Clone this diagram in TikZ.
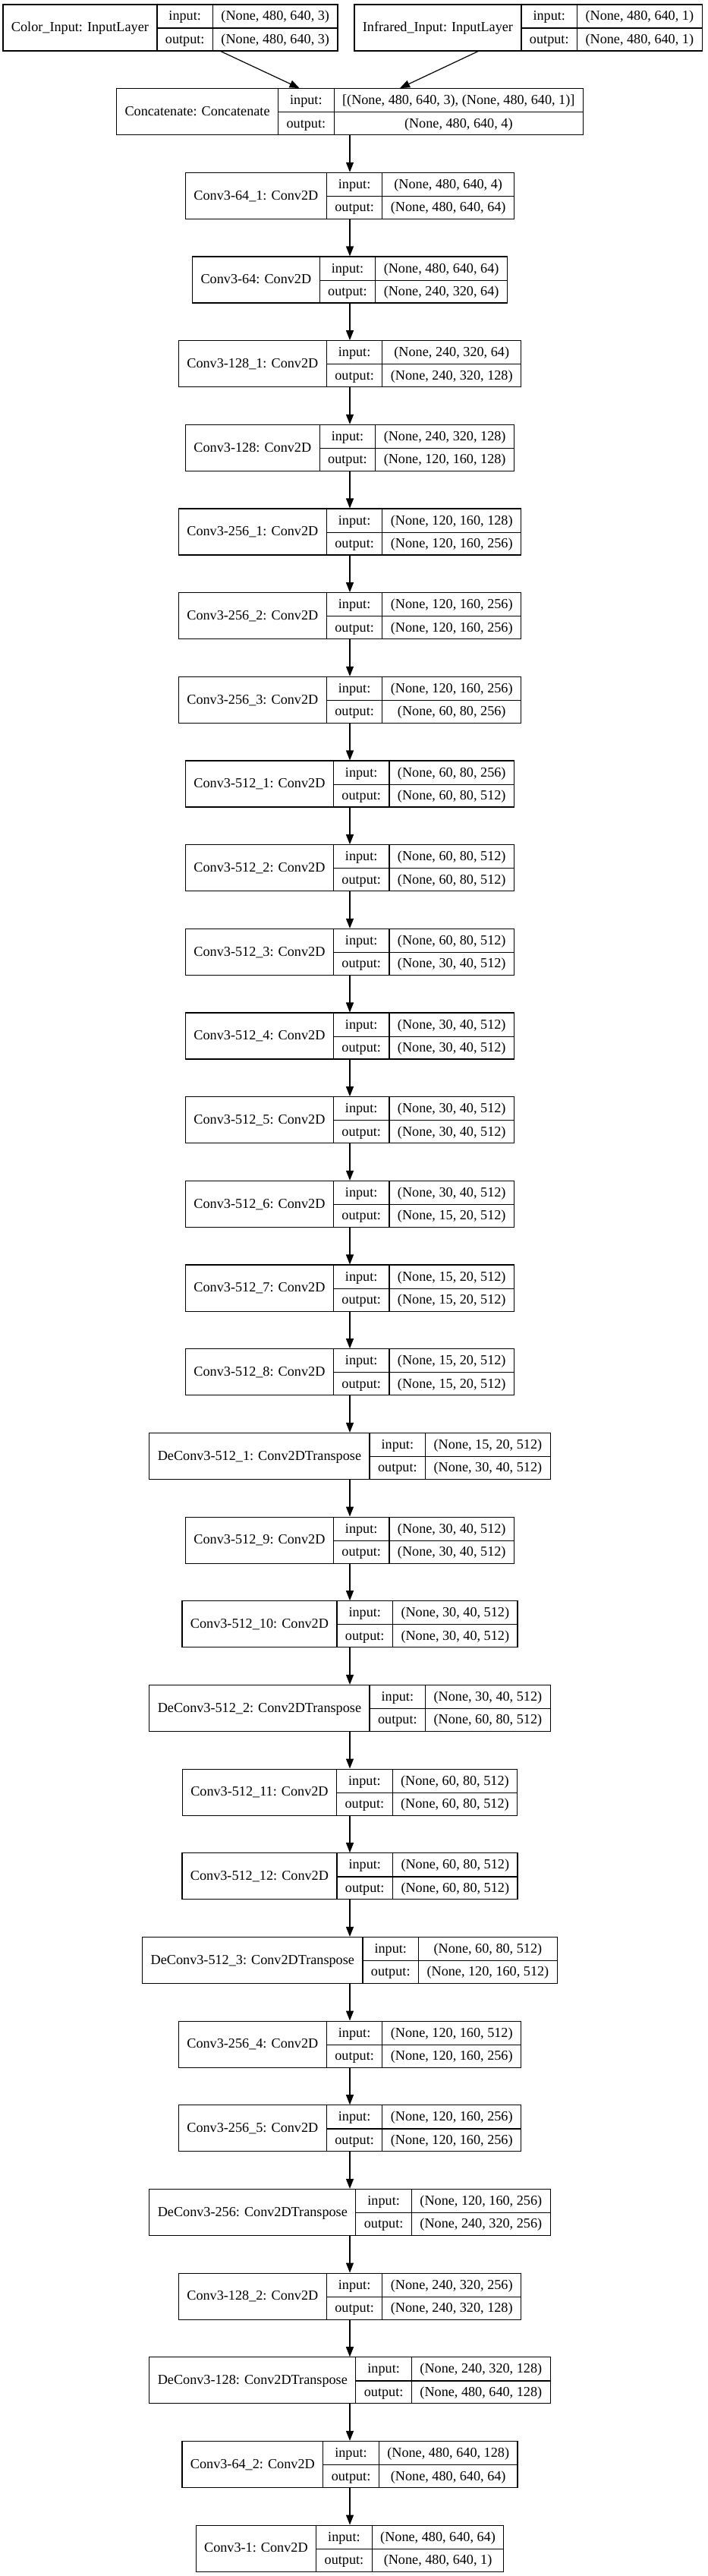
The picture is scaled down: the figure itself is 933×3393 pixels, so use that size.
\documentclass[tikz,border=0pt]{standalone}
\usepackage{fontspec}
\setmainfont{Liberation Serif}
\usetikzlibrary{arrows.meta}
\setlength{\tabcolsep}{11pt}
\setlength{\arrayrulewidth}{1.2pt}
\newcommand{\rowStrut}{\rule[-9.5pt]{0pt}{30.5pt}}
\newcommand{\layerRecord}[3]{%
  \begin{tabular}{c|c|c}
    \rowStrut & input: & #2\\ \cline{2-3}
    \rowStrut\raisebox{15.85pt}[0pt][0pt]{#1} & output: & #3
  \end{tabular}}
\tikzstyle{layerPart} = [draw, line width=1.2pt, inner sep=0pt, font=\fontsize{18.2pt}{22pt}\selectfont]
\tikzstyle{flowArrow} = [draw, line width=1.2pt, -{Triangle[length=13pt,width=10pt]}]

\begin{document}
\begin{tikzpicture}
		\useasboundingbox (0,0) rectangle (933pt,-3393pt);

		% Inputs
		\path (224.5pt,-36.5pt) node (colorInput) [layerPart] {\layerRecord{Color\_Input: InputLayer}{(None, 480, 640, 3)}{(None, 480, 640, 3)}};
		\path (696pt,-36.5pt) node (infraredInput) [layerPart] {\layerRecord{Infrared\_Input: InputLayer}{(None, 480, 640, 1)}{(None, 480, 640, 1)}};
		\path (461pt,-147.2pt) node (concat) [layerPart] {\layerRecord{Concatenate: Concatenate}{[(None, 480, 640, 3), (None, 480, 640, 1)]}{(None, 480, 640, 4)}};

		\path [flowArrow] (colorInput) -- (concat);
		\path [flowArrow] (infraredInput) -- (concat);

		% Encoder
		\path (concat)+(0,-110.67pt) node (conv64a) [layerPart] {\layerRecord{Conv3-64\_1: Conv2D}{(None, 480, 640, 4)}{(None, 480, 640, 64)}};
		\path (conv64a)+(0,-110.67pt) node (conv64) [layerPart] {\layerRecord{Conv3-64: Conv2D}{(None, 480, 640, 64)}{(None, 240, 320, 64)}};
		\path (conv64)+(0,-110.67pt) node (conv128a) [layerPart] {\layerRecord{Conv3-128\_1: Conv2D}{(None, 240, 320, 64)}{(None, 240, 320, 128)}};
		\path (conv128a)+(0,-110.67pt) node (conv128) [layerPart] {\layerRecord{Conv3-128: Conv2D}{(None, 240, 320, 128)}{(None, 120, 160, 128)}};
		\path (conv128)+(0,-110.67pt) node (conv256a) [layerPart] {\layerRecord{Conv3-256\_1: Conv2D}{(None, 120, 160, 128)}{(None, 120, 160, 256)}};
		\path (conv256a)+(0,-110.67pt) node (conv256b) [layerPart] {\layerRecord{Conv3-256\_2: Conv2D}{(None, 120, 160, 256)}{(None, 120, 160, 256)}};
		\path (conv256b)+(0,-110.67pt) node (conv256c) [layerPart] {\layerRecord{Conv3-256\_3: Conv2D}{(None, 120, 160, 256)}{(None, 60, 80, 256)}};
		\path (conv256c)+(0,-110.67pt) node (conv512a) [layerPart] {\layerRecord{Conv3-512\_1: Conv2D}{(None, 60, 80, 256)}{(None, 60, 80, 512)}};
		\path (conv512a)+(0,-110.67pt) node (conv512b) [layerPart] {\layerRecord{Conv3-512\_2: Conv2D}{(None, 60, 80, 512)}{(None, 60, 80, 512)}};
		\path (conv512b)+(0,-110.67pt) node (conv512c) [layerPart] {\layerRecord{Conv3-512\_3: Conv2D}{(None, 60, 80, 512)}{(None, 30, 40, 512)}};
		\path (conv512c)+(0,-110.67pt) node (conv512d) [layerPart] {\layerRecord{Conv3-512\_4: Conv2D}{(None, 30, 40, 512)}{(None, 30, 40, 512)}};
		\path (conv512d)+(0,-110.67pt) node (conv512e) [layerPart] {\layerRecord{Conv3-512\_5: Conv2D}{(None, 30, 40, 512)}{(None, 30, 40, 512)}};
		\path (conv512e)+(0,-110.67pt) node (conv512f) [layerPart] {\layerRecord{Conv3-512\_6: Conv2D}{(None, 30, 40, 512)}{(None, 15, 20, 512)}};
		\path (conv512f)+(0,-110.67pt) node (conv512g) [layerPart] {\layerRecord{Conv3-512\_7: Conv2D}{(None, 15, 20, 512)}{(None, 15, 20, 512)}};
		\path (conv512g)+(0,-110.67pt) node (conv512h) [layerPart] {\layerRecord{Conv3-512\_8: Conv2D}{(None, 15, 20, 512)}{(None, 15, 20, 512)}};

		\path [flowArrow] (concat) -- (conv64a);
		\path [flowArrow] (conv64a) -- (conv64);
		\path [flowArrow] (conv64) -- (conv128a);
		\path [flowArrow] (conv128a) -- (conv128);
		\path [flowArrow] (conv128) -- (conv256a);
		\path [flowArrow] (conv256a) -- (conv256b);
		\path [flowArrow] (conv256b) -- (conv256c);
		\path [flowArrow] (conv256c) -- (conv512a);
		\path [flowArrow] (conv512a) -- (conv512b);
		\path [flowArrow] (conv512b) -- (conv512c);
		\path [flowArrow] (conv512c) -- (conv512d);
		\path [flowArrow] (conv512d) -- (conv512e);
		\path [flowArrow] (conv512e) -- (conv512f);
		\path [flowArrow] (conv512f) -- (conv512g);
		\path [flowArrow] (conv512g) -- (conv512h);

		% Decoder
		\path (conv512h)+(0,-110.67pt) node (deconv512a) [layerPart] {\layerRecord{DeConv3-512\_1: Conv2DTranspose}{(None, 15, 20, 512)}{(None, 30, 40, 512)}};
		\path (deconv512a)+(0,-110.67pt) node (conv512i) [layerPart] {\layerRecord{Conv3-512\_9: Conv2D}{(None, 30, 40, 512)}{(None, 30, 40, 512)}};
		\path (conv512i)+(0,-110.67pt) node (conv512j) [layerPart] {\layerRecord{Conv3-512\_10: Conv2D}{(None, 30, 40, 512)}{(None, 30, 40, 512)}};
		\path (conv512j)+(0,-110.67pt) node (deconv512b) [layerPart] {\layerRecord{DeConv3-512\_2: Conv2DTranspose}{(None, 30, 40, 512)}{(None, 60, 80, 512)}};
		\path (deconv512b)+(0,-110.67pt) node (conv512k) [layerPart] {\layerRecord{Conv3-512\_11: Conv2D}{(None, 60, 80, 512)}{(None, 60, 80, 512)}};
		\path (conv512k)+(0,-110.67pt) node (conv512l) [layerPart] {\layerRecord{Conv3-512\_12: Conv2D}{(None, 60, 80, 512)}{(None, 60, 80, 512)}};
		\path (conv512l)+(0,-110.67pt) node (deconv512c) [layerPart] {\layerRecord{DeConv3-512\_3: Conv2DTranspose}{(None, 60, 80, 512)}{(None, 120, 160, 512)}};
		\path (deconv512c)+(0,-110.67pt) node (conv256d) [layerPart] {\layerRecord{Conv3-256\_4: Conv2D}{(None, 120, 160, 512)}{(None, 120, 160, 256)}};
		\path (conv256d)+(0,-110.67pt) node (conv256e) [layerPart] {\layerRecord{Conv3-256\_5: Conv2D}{(None, 120, 160, 256)}{(None, 120, 160, 256)}};
		\path (conv256e)+(0,-110.67pt) node (deconv256) [layerPart] {\layerRecord{DeConv3-256: Conv2DTranspose}{(None, 120, 160, 256)}{(None, 240, 320, 256)}};
		\path (deconv256)+(0,-110.67pt) node (conv128b) [layerPart] {\layerRecord{Conv3-128\_2: Conv2D}{(None, 240, 320, 256)}{(None, 240, 320, 128)}};
		\path (conv128b)+(0,-110.67pt) node (deconv128) [layerPart] {\layerRecord{DeConv3-128: Conv2DTranspose}{(None, 240, 320, 128)}{(None, 480, 640, 128)}};
		\path (deconv128)+(0,-110.67pt) node (conv64b) [layerPart] {\layerRecord{Conv3-64\_2: Conv2D}{(None, 480, 640, 128)}{(None, 480, 640, 64)}};
		\path (conv64b)+(0,-110.67pt) node (convOut) [layerPart] {\layerRecord{Conv3-1: Conv2D}{(None, 480, 640, 64)}{(None, 480, 640, 1)}};

		\path [flowArrow] (conv512h) -- (deconv512a);
		\path [flowArrow] (deconv512a) -- (conv512i);
		\path [flowArrow] (conv512i) -- (conv512j);
		\path [flowArrow] (conv512j) -- (deconv512b);
		\path [flowArrow] (deconv512b) -- (conv512k);
		\path [flowArrow] (conv512k) -- (conv512l);
		\path [flowArrow] (conv512l) -- (deconv512c);
		\path [flowArrow] (deconv512c) -- (conv256d);
		\path [flowArrow] (conv256d) -- (conv256e);
		\path [flowArrow] (conv256e) -- (deconv256);
		\path [flowArrow] (deconv256) -- (conv128b);
		\path [flowArrow] (conv128b) -- (deconv128);
		\path [flowArrow] (deconv128) -- (conv64b);
		\path [flowArrow] (conv64b) -- (convOut);

	\end{tikzpicture}
\end{document}
